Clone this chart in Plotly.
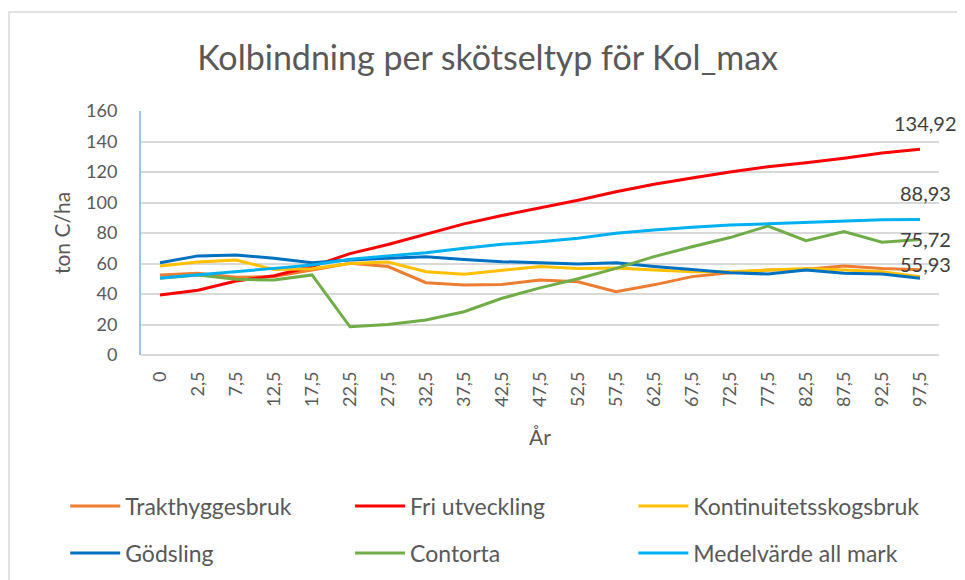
import plotly.graph_objects as go

years = ["0", "2,5", "7,5", "12,5", "17,5", "22,5", "27,5", "32,5", "37,5", "42,5", "47,5",
         "52,5", "57,5", "62,5", "67,5", "72,5", "77,5", "82,5", "87,5", "92,5", "97,5"]

trakthyggesbruk = [52.5, 53.6, 51.0, 51.4, 55.7, 60.1, 58.0, 47.4, 45.9, 46.3, 49.2,
                   48.0, 41.5, 46.0, 51.4, 54.0, 55.7, 56.2, 58.4, 56.8, 55.93]
fri_utveckling = [39.3, 42.5, 48.5, 52.0, 58.0, 66.5, 72.5, 79.0, 86.0, 91.5, 96.5,
                  101.5, 107.0, 112.0, 116.0, 120.0, 123.5, 126.0, 129.0, 132.5, 134.92]
kontinuitet = [58.4, 61.0, 62.3, 56.0, 56.5, 60.0, 61.0, 54.6, 53.0, 55.5, 58.0,
               56.8, 57.0, 55.7, 54.6, 54.6, 55.7, 56.8, 55.7, 54.6, 51.4]
godsling = [60.5, 65.0, 65.6, 63.4, 60.5, 62.3, 63.4, 64.5, 62.7, 61.2, 60.5,
            59.7, 60.5, 58.0, 56.0, 54.0, 53.1, 55.7, 53.6, 53.1, 50.3]
contorta = [50.4, 52.5, 49.6, 49.2, 52.5, 18.5, 20.0, 23.0, 28.4, 37.2, 44.0,
            50.0, 56.8, 64.5, 71.0, 77.0, 84.6, 75.0, 80.9, 73.9, 75.72]
medelvarde = [50.5, 52.5, 54.6, 56.8, 59.0, 62.8, 65.0, 67.0, 70.0, 72.6, 74.3,
              76.5, 79.8, 82.0, 83.7, 85.2, 86.0, 87.0, 88.0, 88.7, 88.93]

# (name, values, colour, legend column)
series = [
    ("Trakthyggesbruk", trakthyggesbruk, "#ED7D31", "legend"),
    ("Fri utveckling", fri_utveckling, "#FF0000", "legend2"),
    ("Kontinuitetsskogsbruk", kontinuitet, "#FFC000", "legend3"),
    ("Gödsling", godsling, "#0070C0", "legend"),
    ("Contorta", contorta, "#70AD47", "legend2"),
    ("Medelvärde all mark", medelvarde, "#00B0F0", "legend3"),
]

end_labels = [("134,92", fri_utveckling[-1], 26),
              ("88,93", medelvarde[-1], 26),
              ("75,72", contorta[-1], 1),
              ("55,93", trakthyggesbruk[-1], 6)]

fig = go.Figure()
for name, vals, color, leg in series:
    fig.add_trace(go.Scatter(x=years, y=vals, name=name, mode="lines", legend=leg,
                             legendgroup=name, line=dict(color=color, width=3)))

for text, val, shift in end_labels:
    fig.add_annotation(x=years[-1], y=val, text=text, showarrow=False,
                       yshift=shift, xshift=5,
                       font=dict(size=20, color="#404040"))

legend_style = dict(orientation="v", y=-0.531, yanchor="top", xanchor="left",
                    tracegroupgap=14, itemwidth=50, font=dict(size=23, color="#595959"),
                    bgcolor="rgba(0,0,0,0)")

fig.update_layout(
    width=965, height=580,
    paper_bgcolor="white", plot_bgcolor="white",
    font=dict(family="Lato, Carlito, sans-serif", color="#595959"),
    title=dict(text="Kolbindning per skötseltyp för Kol_max", x=0.497, xanchor="center",
               y=0.914, yanchor="middle", font=dict(size=34, color="#595959")),
    margin=dict(l=133, r=34, t=103, b=233, autoexpand=False),
    showlegend=True,
    legend=dict(x=-0.095, **legend_style),
    legend2=dict(x=0.262, **legend_style),
    legend3=dict(x=0.617, **legend_style),
    shapes=[dict(type="rect", xref="paper", yref="paper", x0=-0.1654, x1=1.1,
                 y0=-1.2, y1=1.4057, line=dict(color="#d9d9d9", width=1.5))],
)
fig.update_xaxes(type="category", range=[-0.5, len(years) - 0.5], tickangle=-90,
                 tickfont=dict(size=18, color="#595959"), ticklabelstandoff=12,
                 title=dict(text="År", font=dict(size=21, color="#595959"), standoff=24),
                 showgrid=False, showline=False, ticks="")
fig.update_yaxes(range=[0, 160], dtick=20, tickfont=dict(size=18, color="#595959"),
                 ticklabelstandoff=18,
                 title=dict(text="ton C/ha", font=dict(size=21, color="#595959"), standoff=10),
                 showgrid=True, gridcolor="#d9d9d9", gridwidth=1.5,
                 showline=True, linecolor="#9DC3E6", linewidth=2,
                 zeroline=True, zerolinecolor="#d9d9d9", zerolinewidth=1.5, ticks="")

fig.write_html("out.html")
